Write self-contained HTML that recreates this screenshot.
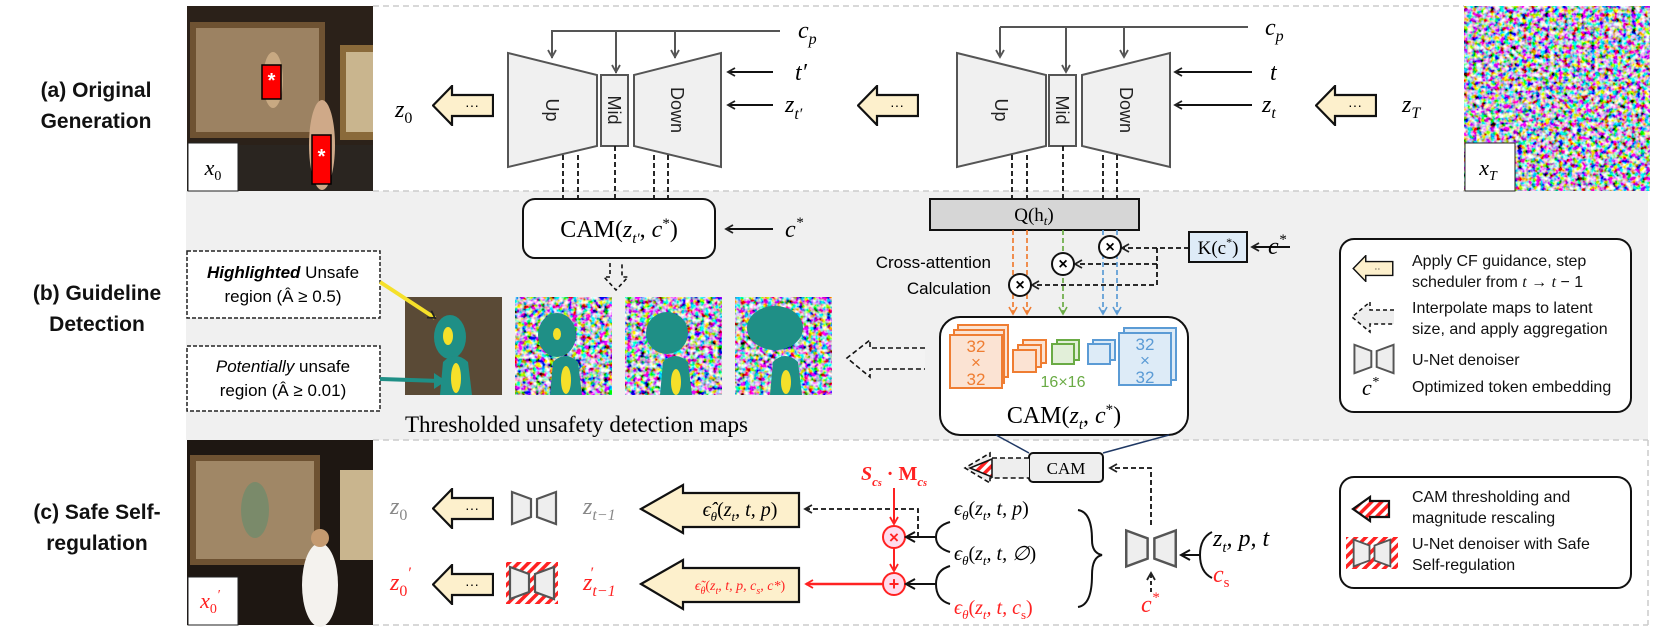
<!DOCTYPE html>
<html><head><meta charset="utf-8"><style>
html,body{margin:0;padding:0;background:#fff}
svg{display:block}
.m{font-family:"Liberation Serif",serif;font-style:italic}
.s{font-family:"Liberation Serif",serif}
.sa{font-family:"Liberation Sans",sans-serif}
</style></head><body>
<svg width="1661" height="630" viewBox="0 0 1661 630" xmlns="http://www.w3.org/2000/svg">
<defs>
<pattern id="hatch" width="7" height="7" patternUnits="userSpaceOnUse" patternTransform="rotate(45)">
<rect width="7" height="7" fill="#fff"/><rect width="3.5" height="7" fill="#f22"/></pattern>
<filter id="noise" x="0" y="0" width="100%" height="100%">
<feTurbulence type="fractalNoise" baseFrequency="0.22" numOctaves="2" seed="3"/>
<feColorMatrix type="matrix" values="3.2 0 0 0 -1.1  0 3.2 0 0 -1.1  0 0 3.4 0 -1.1  0 0 0 0 1"/>
</filter>
<marker id="ah" markerWidth="10" markerHeight="10" refX="8" refY="5" orient="auto" markerUnits="userSpaceOnUse"><path d="M1,1 L8,5 L1,9" fill="none" stroke="#222" stroke-width="1.8"/></marker>
<marker id="ahg" markerWidth="10" markerHeight="10" refX="8" refY="5" orient="auto" markerUnits="userSpaceOnUse"><path d="M1,1 L8,5 L1,9" fill="none" stroke="#555" stroke-width="1.8"/></marker>
<marker id="aho" markerWidth="10" markerHeight="10" refX="8" refY="5" orient="auto" markerUnits="userSpaceOnUse"><path d="M1,1 L8,5 L1,9" fill="none" stroke="#ef7d32" stroke-width="1.6"/></marker>
<marker id="ahgr" markerWidth="10" markerHeight="10" refX="8" refY="5" orient="auto" markerUnits="userSpaceOnUse"><path d="M1,1 L8,5 L1,9" fill="none" stroke="#6aab45" stroke-width="1.6"/></marker>
<marker id="ahb" markerWidth="10" markerHeight="10" refX="8" refY="5" orient="auto" markerUnits="userSpaceOnUse"><path d="M1,1 L8,5 L1,9" fill="none" stroke="#5b9bd5" stroke-width="1.6"/></marker>
<marker id="ahr" markerWidth="10" markerHeight="10" refX="8" refY="5" orient="auto" markerUnits="userSpaceOnUse"><path d="M1,1 L8,5 L1,9" fill="none" stroke="#f22" stroke-width="1.8"/></marker>
<symbol id="yarrow" viewBox="0 0 62 41"><path d="M1,20.5 L20,1 L20,10 L61,10 L61,31 L20,31 L20,40 Z" fill="#fdf0cc" stroke="#111" stroke-width="2.2"/><text x="40" y="25" font-size="14" text-anchor="middle" font-family="Liberation Sans">···</text></symbol>
<symbol id="unet" viewBox="0 0 48 36"><path d="M2,2 L21,9 L21,27 L2,34 Z M46,2 L27,9 L27,27 L46,34 Z" fill="#eee" stroke="#555" stroke-width="2.2"/></symbol>
</defs>

<!-- panels -->
<rect x="186" y="191" width="1462" height="249" fill="#f0f0f0"/>
<path d="M373,6 H1464 M373,191 H1464 M373,440 H1648 M373,625 H1648 M1648,440 V625" stroke="#ccc" stroke-width="1.5" stroke-dasharray="6,4" fill="none"/>

<!-- images -->
<g>
<rect x="187" y="6" width="186" height="185" fill="#2b2119"/>
<rect x="190" y="22" width="135" height="116" fill="#6e5232"/>
<rect x="196" y="28" width="123" height="104" fill="#9c8262"/>
<rect x="340" y="45" width="33" height="95" fill="#8a6a3a"/>
<rect x="346" y="52" width="27" height="80" fill="#c9b58e"/>
<rect x="187" y="145" width="186" height="46" fill="#2a2520"/>
<ellipse cx="273" cy="80" rx="10" ry="28" fill="#c8a982"/>
<ellipse cx="322" cy="145" rx="13" ry="45" fill="#cfa988"/>
<rect x="262" y="65" width="19" height="34" fill="#f00" stroke="#000" stroke-width="1.5"/>
<text x="271.5" y="87" font-size="20" fill="#fff" text-anchor="middle" class="sa" font-weight="bold">*</text>
<rect x="312" y="135" width="19" height="49" fill="#f00" stroke="#000" stroke-width="1.5"/>
<text x="321.5" y="163" font-size="20" fill="#fff" text-anchor="middle" class="sa" font-weight="bold">*</text>
<rect x="188" y="143" width="50" height="48" fill="#fff" stroke="#222" stroke-width="1"/>
<text x="213" y="175" font-size="22" class="m" text-anchor="middle">x<tspan font-size="14" dy="5" font-style="normal">0</tspan></text>
</g>
<g>
<rect x="1464" y="6" width="186" height="185" fill="#777" filter="url(#noise)"/>
<rect x="1465" y="143" width="50" height="48" fill="#fff" stroke="#222" stroke-width="1"/>
<text x="1488" y="175" font-size="22" class="m" text-anchor="middle">x<tspan font-size="14" dy="5">T</tspan></text>
</g>
<g>
<rect x="187" y="440" width="186" height="185" fill="#1e1712"/>
<rect x="190" y="455" width="130" height="110" fill="#6e5232"/>
<rect x="196" y="461" width="118" height="98" fill="#a08766"/>
<rect x="340" y="470" width="33" height="90" fill="#c9b58e"/>
<ellipse cx="255" cy="510" rx="14" ry="28" fill="#7a8a6a"/>
<ellipse cx="320" cy="585" rx="18" ry="42" fill="#f4f2ee"/>
<circle cx="320" cy="538" r="9" fill="#c49a70"/>
<rect x="188" y="577" width="50" height="48" fill="#fff" stroke="#222" stroke-width="1"/>
<text x="210" y="608" font-size="22" class="m" fill="#f22" text-anchor="middle">x<tspan font-size="14" dy="5" font-style="normal">0</tspan><tspan dy="-14" font-size="14">′</tspan></text>
</g>

<!-- row labels -->
<g class="sa" font-weight="bold" font-size="21" text-anchor="middle" fill="#111">
<text x="96" y="97">(a) Original</text><text x="96" y="128">Generation</text>
<text x="97" y="300">(b) Guideline</text><text x="97" y="331">Detection</text>
<text x="97" y="519">(c) Safe Self-</text><text x="97" y="550">regulation</text>
</g>

<!-- top unets -->
<g id="u1">
<path d="M508,53 L597,75 L597,146 L508,167 Z" fill="#f0f0f0" stroke="#555" stroke-width="2"/>
<rect x="601" y="75" width="27" height="71" fill="#f0f0f0" stroke="#555" stroke-width="2"/>
<path d="M634,75 L721,53 L721,167 L634,146 Z" fill="#f0f0f0" stroke="#555" stroke-width="2"/>
<g class="sa" font-size="18" fill="#222">
<text transform="translate(552,110) rotate(90)" text-anchor="middle" dy="6">Up</text>
<text transform="translate(614,110) rotate(90)" text-anchor="middle" dy="6">Mid</text>
<text transform="translate(677,110) rotate(90)" text-anchor="middle" dy="6">Down</text>
</g>
</g>
<path d="M552,58 V31 H780 M616,31 V73 M675,31 V58" fill="none" stroke="#555" stroke-width="2"/>
<path d="M552,31 V57" stroke="#555" stroke-width="2" marker-end="url(#ahg)"/>
<path d="M616,31 V72" stroke="#555" stroke-width="2" marker-end="url(#ahg)"/>
<path d="M675,31 V57" stroke="#555" stroke-width="2" marker-end="url(#ahg)"/>
<path d="M773,72 H728" stroke="#111" stroke-width="2" marker-end="url(#ah)"/>
<path d="M773,105 H728" stroke="#111" stroke-width="2" marker-end="url(#ah)"/>
<text x="798" y="38" font-size="24" class="m">c<tspan font-size="16" dy="6">p</tspan></text>
<text x="795" y="80" font-size="24" class="m">t′</text>
<text x="785" y="112" font-size="24" class="m">z<tspan font-size="16" dy="7">t′</tspan></text>
<text x="395" y="117" font-size="24" class="m">z<tspan font-size="16" dy="6" font-style="normal">0</tspan></text>
<use href="#yarrow" x="432" y="85" width="62" height="41"/>
<use href="#yarrow" x="857" y="85" width="62" height="41"/>
<use href="#yarrow" x="1315" y="85" width="62" height="41"/>

<g transform="translate(449,0)">
<path d="M508,53 L597,75 L597,146 L508,167 Z" fill="#f0f0f0" stroke="#555" stroke-width="2"/>
<rect x="600" y="75" width="27" height="71" fill="#f0f0f0" stroke="#555" stroke-width="2"/>
<path d="M633,75 L721,53 L721,167 L633,146 Z" fill="#f0f0f0" stroke="#555" stroke-width="2"/>
<g class="sa" font-size="18" fill="#222">
<text transform="translate(552,110) rotate(90)" text-anchor="middle" dy="6">Up</text>
<text transform="translate(613,110) rotate(90)" text-anchor="middle" dy="6">Mid</text>
<text transform="translate(677,110) rotate(90)" text-anchor="middle" dy="6">Down</text>
</g>
</g>
<path d="M1000,27 H1248" fill="none" stroke="#555" stroke-width="2"/>
<path d="M1000,27 V57" stroke="#555" stroke-width="2" marker-end="url(#ahg)"/>
<path d="M1066,27 V72" stroke="#555" stroke-width="2" marker-end="url(#ahg)"/>
<path d="M1124,27 V57" stroke="#555" stroke-width="2" marker-end="url(#ahg)"/>
<path d="M1252,72 H1175" stroke="#111" stroke-width="2" marker-end="url(#ah)"/>
<path d="M1252,105 H1175" stroke="#111" stroke-width="2" marker-end="url(#ah)"/>
<text x="1265" y="35" font-size="24" class="m">c<tspan font-size="16" dy="6">p</tspan></text>
<text x="1270" y="80" font-size="24" class="m">t</text>
<text x="1262" y="112" font-size="24" class="m">z<tspan font-size="16" dy="6">t</tspan></text>
<text x="1402" y="112" font-size="24" class="m">z<tspan font-size="16" dy="6">T</tspan></text>

<!-- dashed lines below unets -->
<g stroke="#111" stroke-width="1.8" stroke-dasharray="5,3">
<path d="M563,155 V199 M578,155 V199 M615,146 V199 M654,155 V199 M668,155 V199"/>
<path d="M1012,155 V199 M1027,155 V199 M1063,146 V199 M1103,155 V199 M1117,155 V199"/>
</g>

<!-- CAM(z_t',c*) -->
<rect x="523" y="199" width="192" height="59" rx="12" fill="#fff" stroke="#111" stroke-width="2"/>
<text x="619" y="237" font-size="24" class="s" text-anchor="middle">CAM(<tspan font-style="italic">z</tspan><tspan font-size="15" dy="6" font-style="italic">t′</tspan><tspan dy="-6">, </tspan><tspan font-style="italic">c</tspan><tspan font-size="15" dy="-9">*</tspan><tspan dy="9">)</tspan></text>
<path d="M773,229 H726" stroke="#111" stroke-width="2" marker-end="url(#ah)"/>
<text x="785" y="237" font-size="24" class="m">c<tspan font-size="15" dy="-10">*</tspan></text>
<path d="M610,263 V277 H604 L616,290 L628,277 H622 V263" fill="none" stroke="#111" stroke-width="1.6" stroke-dasharray="4,3"/>

<!-- label boxes -->
<rect x="187" y="251" width="193" height="67" fill="#fff" stroke="#222" stroke-width="1.5" stroke-dasharray="4,2"/>
<text x="283" y="278" font-size="17" class="sa" text-anchor="middle"><tspan font-weight="bold" font-style="italic">Highlighted</tspan> Unsafe</text>
<text x="283" y="302" font-size="17" class="sa" text-anchor="middle">region  (Â ≥ 0.5)</text>
<rect x="187" y="346" width="193" height="65" fill="#fff" stroke="#222" stroke-width="1.5" stroke-dasharray="4,2"/>
<text x="283" y="372" font-size="17" class="sa" text-anchor="middle"><tspan font-style="italic">Potentially</tspan> unsafe</text>
<text x="283" y="396" font-size="17" class="sa" text-anchor="middle">region (Â ≥ 0.01)</text>

<!-- maps -->
<g>
<rect x="405" y="297" width="97" height="98" fill="#5a4a36"/>
<rect x="515" y="297" width="97" height="98" fill="#777" filter="url(#noise)"/>
<rect x="625" y="297" width="97" height="98" fill="#777" filter="url(#noise)"/>
<rect x="735" y="297" width="97" height="98" fill="#777" filter="url(#noise)"/>
<g fill="#1f8f86">
<ellipse cx="450" cy="337" rx="16" ry="22"/><path d="M440,395 L443,362 Q455,350 468,362 L472,395 Z"/>
<ellipse cx="557" cy="335" rx="19" ry="22"/><path d="M550,395 L553,362 Q565,350 578,362 L582,395 Z"/>
<ellipse cx="667" cy="333" rx="21" ry="21"/><path d="M660,395 L663,362 Q675,350 688,362 L692,395 Z"/>
<ellipse cx="775" cy="328" rx="28" ry="22"/><path d="M770,395 L773,362 Q785,350 798,362 L802,395 Z"/>
</g>
<g fill="#f5e02a">
<ellipse cx="448" cy="336" rx="5" ry="9"/><ellipse cx="456" cy="378" rx="5" ry="15"/>
<ellipse cx="557" cy="334" rx="4" ry="6"/><ellipse cx="566" cy="380" rx="5" ry="14"/>
<ellipse cx="676" cy="382" rx="5" ry="13"/><ellipse cx="786" cy="382" rx="5" ry="12"/>
</g>
<path d="M380,282 L435,318" stroke="#f5e02a" stroke-width="4" marker-end="url(#ah)"/>
<path d="M380,379 L440,381" stroke="#1f8f86" stroke-width="4"/>
<path d="M434,373 L446,381 L434,389 Z" fill="#1f8f86"/>
</g>
<text x="405" y="432" font-size="23" class="s">Thresholded unsafety detection maps</text>

<!-- Q, K, circles -->
<rect x="930" y="199" width="209" height="31" fill="#d6d6d6" stroke="#111" stroke-width="2"/>
<text x="1034" y="221" font-size="19" class="s" text-anchor="middle">Q(h<tspan font-size="13" dy="4" font-style="italic">t</tspan><tspan dy="-4">)</tspan></text>
<rect x="1189" y="232" width="58" height="30" fill="#deebf7" stroke="#111" stroke-width="2"/>
<text x="1218" y="254" font-size="19" class="s" text-anchor="middle">K(c<tspan font-size="12" dy="-8">*</tspan><tspan dy="8">)</tspan></text>
<path d="M1290,247 H1252" stroke="#111" stroke-width="2" marker-end="url(#ah)"/>
<text x="1268" y="254" font-size="24" class="m">c<tspan font-size="15" dy="-10">*</tspan></text>
<g stroke="#111" stroke-width="1.8" stroke-dasharray="5,3" fill="none">
<path d="M1189,248 H1122" marker-end="url(#ah)"/>
<path d="M1157,248 V264 H1075" marker-end="url(#ah)"/>
<path d="M1157,264 V285 H1032" marker-end="url(#ah)"/>
</g>
<g stroke-width="1.7" stroke-dasharray="5,3" fill="none">
<path d="M1013,230 V314" stroke="#ef7d32" marker-end="url(#aho)"/>
<path d="M1027,230 V314" stroke="#ef7d32" marker-end="url(#aho)"/>
<path d="M1063,230 V314" stroke="#6aab45" marker-end="url(#ahgr)"/>
<path d="M1103,230 V314" stroke="#5b9bd5" marker-end="url(#ahb)"/>
<path d="M1117,230 V314" stroke="#5b9bd5" marker-end="url(#ahb)"/>
</g>
<g fill="#fff" stroke="#111" stroke-width="2">
<circle cx="1110" cy="247" r="11"/><circle cx="1063" cy="264" r="11"/><circle cx="1020" cy="285" r="11"/>
</g>
<g font-size="16" class="sa" text-anchor="middle" font-weight="bold">
<text x="1110" y="252">×</text><text x="1063" y="269">×</text><text x="1020" y="290">×</text>
</g>
<text x="991" y="268" font-size="17" class="sa" text-anchor="end">Cross-attention</text>
<text x="991" y="294" font-size="17" class="sa" text-anchor="end">Calculation</text>

<!-- big CAM box -->
<rect x="940" y="317" width="248" height="118" rx="20" fill="#fff" stroke="#111" stroke-width="2"/>
<g fill="#fbe3d3" stroke="#ef7d32" stroke-width="2">
<rect x="958" y="325" width="50" height="52"/><rect x="954" y="330" width="50" height="53"/><rect x="950" y="335" width="52" height="53"/>
<rect x="1023" y="340" width="23" height="23"/><rect x="1018" y="345" width="23" height="22"/><rect x="1013" y="350" width="23" height="22"/>
</g>
<g fill="#e2efd9" stroke="#6aab45" stroke-width="2"><rect x="1057" y="340" width="22" height="20"/><rect x="1052" y="344" width="22" height="20"/></g>
<g fill="#ddebf7" stroke="#5b9bd5" stroke-width="2"><rect x="1093" y="340" width="22" height="20"/><rect x="1088" y="344" width="22" height="20"/>
<rect x="1124" y="328" width="52" height="52"/><rect x="1119" y="333" width="52" height="52"/></g>
<g class="sa" font-size="17" text-anchor="middle">
<text x="976" y="352" fill="#ef7d32">32</text><text x="976" y="368" fill="#ef7d32">×</text><text x="976" y="385" fill="#ef7d32">32</text>
<text x="1145" y="350" fill="#5b9bd5">32</text><text x="1145" y="366" fill="#5b9bd5">×</text><text x="1145" y="383" fill="#5b9bd5">32</text>
<text x="1063" y="387" fill="#6aab45" font-size="16">16×16</text>
</g>
<text x="1064" y="423" font-size="24" class="s" text-anchor="middle">CAM(<tspan font-style="italic">z</tspan><tspan font-size="15" dy="6" font-style="italic">t</tspan><tspan dy="-6">, </tspan><tspan font-style="italic">c</tspan><tspan font-size="15" dy="-9">*</tspan><tspan dy="9">)</tspan></text>
<path d="M925,348 H870 L870,340 L847,358 L870,377 L870,369 H925" fill="#f3f3f3" stroke="#111" stroke-width="1.6" stroke-dasharray="5,3"/>

<!-- bottom connectors -->
<path d="M996,435 L1029,453 M1169,435 L1103,453" stroke="#1f3864" stroke-width="1.5"/>
<rect x="1029" y="453" width="74" height="29" rx="4" fill="#eee" stroke="#111" stroke-width="2"/>
<text x="1066" y="474" font-size="17" class="s" text-anchor="middle">CAM</text>
<path d="M1029,458 H990 V453 L965,468 L990,483 V478 H1029" fill="#eee" stroke="#111" stroke-width="1.6" stroke-dasharray="5,3"/>
<path d="M992,459 L970,468 L992,477 Z" fill="url(#hatch)" stroke="#111" stroke-width="1.5"/>
<path d="M1151,525 V468 H1110" fill="none" stroke="#111" stroke-width="1.8" stroke-dasharray="5,3" marker-end="url(#ah)"/>
<text x="894" y="480" font-size="20" class="s" fill="#f22" text-anchor="middle" font-weight="bold"><tspan font-style="italic">S</tspan><tspan font-size="13" dy="6" font-style="italic">c<tspan font-size="10">s</tspan></tspan><tspan dy="-6"> · M</tspan><tspan font-size="13" dy="6" font-style="italic">c<tspan font-size="10">s</tspan></tspan></text>

<!-- row 1 -->
<text x="390" y="514" font-size="24" class="m" fill="#888">z<tspan font-size="16" dy="6" font-style="normal">0</tspan></text>
<use href="#yarrow" x="432" y="488" width="62" height="41"/>
<use href="#unet" x="510" y="490" width="48" height="36"/>
<text x="583" y="514" font-size="24" class="m" fill="#888">z<tspan font-size="16" dy="6">t−1</tspan></text>
<path d="M641,509 L683,485 L683,493 L799,493 L799,527 L683,527 L683,533 Z" fill="#fdf0cc" stroke="#111" stroke-width="2.2"/>
<text x="740" y="516" font-size="20" class="m" text-anchor="middle">ϵ̂<tspan font-size="13" dy="5">θ</tspan><tspan dy="-5" font-style="normal">(</tspan>z<tspan font-size="13" dy="5">t</tspan><tspan dy="-5">, t, p</tspan><tspan font-style="normal">)</tspan></text>
<path d="M918,537 V509 H805" fill="none" stroke="#111" stroke-width="1.8" stroke-dasharray="5,3" marker-end="url(#ah)"/>
<path d="M894,488 V524" stroke="#f22" stroke-width="2" marker-end="url(#ahr)"/>
<path d="M894,548 V571" stroke="#f22" stroke-width="2" marker-end="url(#ahr)"/>
<circle cx="894" cy="537" r="11" fill="#fde" stroke="#f22" stroke-width="2"/>
<circle cx="894" cy="584" r="11" fill="#fde" stroke="#f22" stroke-width="2"/>
<text x="894" y="543" font-size="17" fill="#f22" text-anchor="middle" class="sa" font-weight="bold">×</text>
<text x="894" y="590" font-size="18" fill="#f22" text-anchor="middle" class="sa" font-weight="bold">+</text>
<path d="M883,584 H806" stroke="#f22" stroke-width="2.5" marker-end="url(#ahr)"/>
<!-- braces -->
<path d="M950,522 Q936,526 936,537 Q936,548 950,552 M936,537 H907" fill="none" stroke="#111" stroke-width="2"/>
<path d="M915,532 L906,537 L915,542" fill="none" stroke="#111" stroke-width="2"/>
<path d="M950,566 Q936,570 936,584 Q936,600 950,604 M936,584 H907" fill="none" stroke="#111" stroke-width="2"/>
<path d="M915,579 L906,584 L915,589" fill="none" stroke="#111" stroke-width="2"/>
<path d="M1078,510 Q1092,512 1092,540 Q1092,553 1102,555 Q1092,557 1092,575 Q1092,605 1078,607" fill="none" stroke="#111" stroke-width="2"/>
<g font-size="20" class="m">
<text x="954" y="515">ϵ<tspan font-size="13" dy="5">θ</tspan><tspan dy="-5" font-style="normal">(</tspan>z<tspan font-size="13" dy="5">t</tspan><tspan dy="-5">, t, p</tspan><tspan font-style="normal">)</tspan></text>
<text x="954" y="560">ϵ<tspan font-size="13" dy="5">θ</tspan><tspan dy="-5" font-style="normal">(</tspan>z<tspan font-size="13" dy="5">t</tspan><tspan dy="-5">, t, ∅</tspan><tspan font-style="normal">)</tspan></text>
<text x="954" y="614" fill="#f22">ϵ<tspan font-size="13" dy="5">θ</tspan><tspan dy="-5" font-style="normal">(</tspan>z<tspan font-size="13" dy="5">t</tspan><tspan dy="-5">, t, c</tspan><tspan font-size="13" dy="5" font-style="normal">s</tspan><tspan dy="-5" font-style="normal">)</tspan></text>
</g>
<use href="#unet" x="1124" y="528" width="54" height="41"/>
<path d="M1212,532 Q1200,538 1200,555 Q1200,572 1212,578 M1200,555 H1182" fill="none" stroke="#111" stroke-width="2"/>
<path d="M1190,550 L1181,555 L1190,560" fill="none" stroke="#111" stroke-width="2"/>
<text x="1213" y="546" font-size="24" class="m">z<tspan font-size="15" dy="6">t</tspan><tspan dy="-6">, p, t</tspan></text>
<text x="1213" y="582" font-size="24" class="m" fill="#f22">c<tspan font-size="15" dy="5" font-style="normal">s</tspan></text>
<path d="M1151,592 V573" stroke="#111" stroke-width="1.8" stroke-dasharray="4,3" marker-end="url(#ah)"/>
<text x="1141" y="612" font-size="24" class="m" fill="#f22">c<tspan font-size="15" dy="-10">*</tspan></text>

<!-- row 2 -->
<text x="390" y="590" font-size="24" class="m" fill="#f22">z<tspan font-size="16" dy="6" font-style="normal">0</tspan><tspan dy="-18" font-size="16">′</tspan></text>
<use href="#yarrow" x="432" y="564" width="62" height="41"/>
<rect x="506" y="562" width="52" height="42" fill="url(#hatch)"/>
<use href="#unet" x="508" y="565" width="48" height="36"/>
<text x="583" y="590" font-size="24" class="m" fill="#f22">z<tspan font-size="16" dy="6">t−1</tspan><tspan dx="-26" dy="-18" font-size="16">′</tspan></text>
<path d="M641,584 L683,560 L683,568 L799,568 L799,602 L683,602 L683,609 Z" fill="#fdf0cc" stroke="#111" stroke-width="2.2"/>
<text x="740" y="590" font-size="14" class="m" fill="#f22" text-anchor="middle">ϵ̃<tspan font-size="10" dy="4">θ</tspan><tspan dy="-4" font-style="normal">(</tspan>z<tspan font-size="10" dy="4">t</tspan><tspan dy="-4">, t, p, c</tspan><tspan font-size="10" dy="4">s</tspan><tspan dy="-4">, c*</tspan><tspan font-style="normal">)</tspan></text>

<!-- legends -->
<rect x="1340" y="239" width="291" height="173" rx="14" fill="#fff" stroke="#111" stroke-width="2"/>
<rect x="1340" y="477" width="291" height="111" rx="14" fill="#fff" stroke="#111" stroke-width="2"/>
<use href="#yarrow" x="1352" y="255" width="42" height="27"/>
<rect x="1380" y="263" width="12" height="10" fill="#fdf0cc"/>
<g class="sa" font-size="16" fill="#111">
<text x="1412" y="266">Apply CF guidance, step</text>
<text x="1412" y="287">scheduler from <tspan class="m">t</tspan> → <tspan class="m">t</tspan> − 1</text>
<text x="1412" y="313">Interpolate maps to latent</text>
<text x="1412" y="334">size, and apply aggregation</text>
<text x="1412" y="365">U-Net denoiser</text>
<text x="1412" y="392">Optimized token embedding</text>
<text x="1412" y="502">CAM thresholding and</text>
<text x="1412" y="523">magnitude rescaling</text>
<text x="1412" y="549">U-Net denoiser with Safe</text>
<text x="1412" y="570">Self-regulation</text>
</g>
<path d="M1394,310 H1370 V302 L1352,317 L1370,332 V324 H1394" fill="#eee" stroke="#111" stroke-width="1.5" stroke-dasharray="4,3"/>
<use href="#unet" x="1351" y="343" width="46" height="32"/>
<text x="1362" y="395" font-size="22" class="m">c<tspan font-size="14" dy="-9">*</tspan></text>
<path d="M1353,509 L1370,497 L1370,501 L1389,501 L1389,517 L1370,517 L1370,521 Z" fill="url(#hatch)" stroke="#111" stroke-width="2.2"/>
<rect x="1346" y="537" width="52" height="32" fill="url(#hatch)"/>
<use href="#unet" x="1350" y="538" width="44" height="30"/>
</svg>
</body></html>
